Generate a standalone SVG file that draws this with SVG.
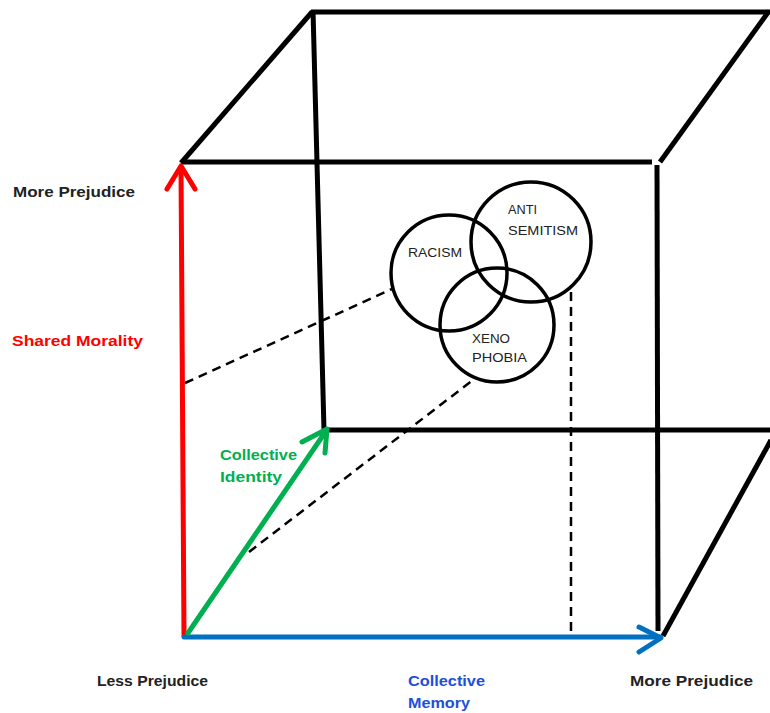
<svg xmlns="http://www.w3.org/2000/svg" width="770" height="713" viewBox="0 0 770 713">
<style>
.cube{stroke:#000;stroke-width:5;fill:none;stroke-linecap:butt}
.dash{stroke:#000;stroke-width:2.5;fill:none;stroke-dasharray:9,6}
.circ{stroke:#000;stroke-width:3.5;fill:none}
.lbl{font-family:"Liberation Sans",Arial,sans-serif;font-weight:bold;font-size:15px}
.ctxt{font-family:"Liberation Sans",Arial,sans-serif;font-size:13.5px;fill:#222}
.ax{fill:none;stroke-width:5;stroke-linecap:round;stroke-linejoin:round}
</style>
<rect width="770" height="713" fill="#fff"/>
<g id="cube">
<line class="cube" x1="181" y1="162" x2="652" y2="162"/>
<line class="cube" x1="657" y1="165" x2="658" y2="631"/>
<line class="cube" x1="311" y1="12" x2="770" y2="12"/>
<line class="cube" x1="313" y1="10" x2="324" y2="430"/>
<line class="cube" x1="322" y1="430" x2="770" y2="430"/>
<line class="cube" x1="181" y1="163" x2="312" y2="12"/>
<line class="cube" x1="660" y1="162" x2="769" y2="11"/>
<line class="cube" x1="663" y1="636" x2="771" y2="440"/>
</g>
<g id="connectors">
<line class="dash" x1="185" y1="383" x2="392" y2="289"/>
<line class="dash" x1="249" y1="552" x2="473" y2="380"/>
<line class="dash" x1="571" y1="292" x2="571" y2="638"/>
</g>
<g id="axis-morality">
<line class="ax" stroke="#ff0000" x1="184" y1="636" x2="181" y2="167"/>
<polyline class="ax" stroke="#ff0000" points="167,189 181,166 195,189"/>
</g>
<g id="axis-memory">
<line class="ax" stroke="#0070c0" x1="184" y1="637" x2="660" y2="637"/>
<polyline class="ax" stroke="#0070c0" points="639,627 661,638 639,652"/>
</g>
<g id="axis-identity">
<line class="ax" stroke="#00b050" x1="188" y1="633" x2="326" y2="431"/>
<polyline class="ax" stroke="#00b050" points="302,442 327,429 325,453"/>
</g>
<g id="racism">
<circle class="circ" cx="449" cy="273" r="58"/>
<text class="ctxt" x="408" y="257" textLength="54" lengthAdjust="spacingAndGlyphs">RACISM</text>
</g>
<g id="antisemitism">
<circle class="circ" cx="531" cy="242" r="60"/>
<text class="ctxt" x="508" y="214" textLength="29" lengthAdjust="spacingAndGlyphs">ANTI</text>
<text class="ctxt" x="508" y="235" textLength="70" lengthAdjust="spacingAndGlyphs">SEMITISM</text>
</g>
<g id="xenophobia">
<circle class="circ" cx="497" cy="325" r="57"/>
<text class="ctxt" x="472" y="343" textLength="38" lengthAdjust="spacingAndGlyphs">XENO</text>
<text class="ctxt" x="472" y="362" textLength="55" lengthAdjust="spacingAndGlyphs">PHOBIA</text>
</g>
<g id="labels">
<text class="lbl" x="13" y="197" fill="#222" textLength="122" lengthAdjust="spacingAndGlyphs">More Prejudice</text>
<text class="lbl" x="12" y="346" fill="#ff0000" textLength="131" lengthAdjust="spacingAndGlyphs">Shared Morality</text>
<text class="lbl" x="220" y="460" fill="#00b050" textLength="77" lengthAdjust="spacingAndGlyphs">Collective</text>
<text class="lbl" x="220" y="482" fill="#00b050" textLength="62" lengthAdjust="spacingAndGlyphs">Identity</text>
<text class="lbl" x="97" y="686" fill="#222" textLength="111" lengthAdjust="spacingAndGlyphs">Less Prejudice</text>
<text class="lbl" x="408" y="686" fill="#1f4fd8" textLength="77" lengthAdjust="spacingAndGlyphs">Collective</text>
<text class="lbl" x="408" y="708" fill="#1f4fd8" textLength="62" lengthAdjust="spacingAndGlyphs">Memory</text>
<text class="lbl" x="630" y="686" fill="#222" textLength="123" lengthAdjust="spacingAndGlyphs">More Prejudice</text>
</g>
</svg>
